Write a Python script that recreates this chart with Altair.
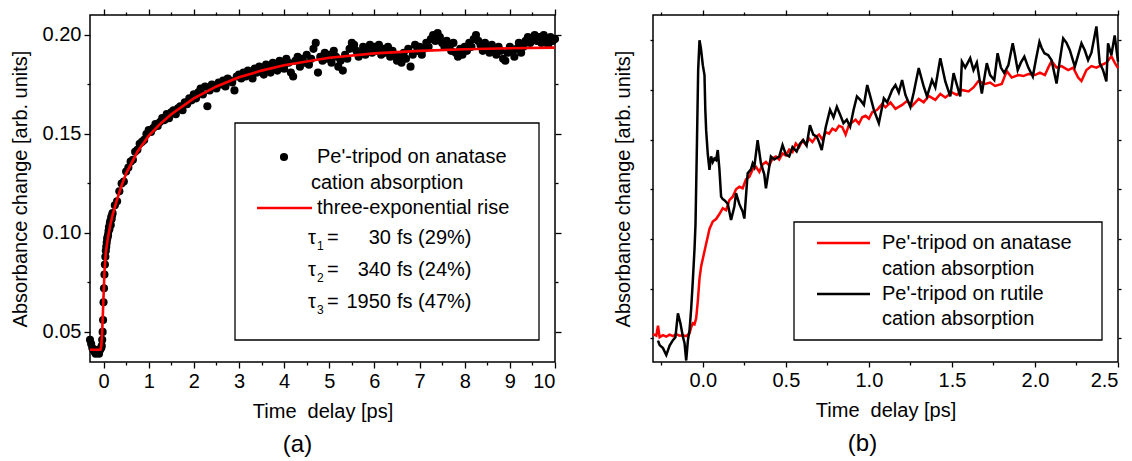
import altair as alt
import numpy as np
import pandas as pd

FONT = "Liberation Sans"

# ---------------- Panel (a): Pe'-tripod on anatase, dots + fit ----------------
# pre-zero baseline (t = -0.300 ... -0.050, step 0.025)
dots_pre_t = [-0.300, -0.275, -0.250, -0.225, -0.200, -0.175, -0.150, -0.125, -0.100, -0.075, -0.050]
dots_pre_y = [0.046, 0.044, 0.042, 0.041, 0.040, 0.039, 0.040, 0.041, 0.039, 0.041, 0.042]
# rise region (t = -0.04 ... 0.20, step 0.01)
dots_rise_t = [-0.04, -0.03, -0.02, -0.01, 0.00, 0.01, 0.02, 0.03, 0.04, 0.05, 0.06, 0.07, 0.08,
               0.09, 0.10, 0.11, 0.12, 0.13, 0.14, 0.15, 0.16, 0.17, 0.18, 0.19, 0.20]
dots_rise_y = [0.043, 0.046, 0.050, 0.056, 0.065, 0.072, 0.079, 0.084, 0.088, 0.091, 0.093, 0.095, 0.097,
               0.098, 0.099, 0.101, 0.103, 0.102, 0.105, 0.106, 0.104, 0.108, 0.107, 0.109, 0.110]
# main region, t = 0.25 ... 10.00 every 0.05 ps
dots_main_y = [
    0.114, 0.116, 0.121, 0.125, 0.126, 0.131, 0.133, 0.136, 0.137, 0.141,
    0.142, 0.145, 0.146, 0.147, 0.150, 0.152, 0.151, 0.153, 0.155, 0.154,
    0.156, 0.158, 0.157, 0.160, 0.158, 0.161, 0.162, 0.160, 0.163, 0.164,
    0.162, 0.166, 0.165, 0.168, 0.167, 0.170, 0.168, 0.171, 0.173, 0.170,
    0.174, 0.164, 0.172, 0.175, 0.174, 0.173, 0.176, 0.175, 0.177, 0.174,
    0.178, 0.177, 0.176, 0.172, 0.179, 0.180, 0.178, 0.181, 0.179, 0.182,
    0.180, 0.178, 0.183, 0.181, 0.184, 0.182, 0.180, 0.185, 0.183, 0.181,
    0.186, 0.184, 0.182, 0.187, 0.185, 0.183, 0.188, 0.186, 0.181, 0.179,
    0.187, 0.189, 0.184, 0.188, 0.186, 0.190, 0.185, 0.188, 0.193, 0.196,
    0.181, 0.189, 0.187, 0.191, 0.188, 0.190, 0.186, 0.192, 0.189, 0.184,
    0.187, 0.182, 0.190, 0.188, 0.193, 0.196, 0.195, 0.192, 0.189, 0.191,
    0.194, 0.190, 0.193, 0.195, 0.191, 0.194, 0.192, 0.195, 0.190, 0.193,
    0.191, 0.194, 0.189, 0.192, 0.190, 0.187, 0.189, 0.186, 0.191, 0.188,
    0.193, 0.184, 0.190, 0.195, 0.192, 0.194, 0.190, 0.193, 0.196, 0.194,
    0.198, 0.200, 0.197, 0.201, 0.199, 0.196, 0.194, 0.197, 0.195, 0.192,
    0.196, 0.191, 0.189, 0.193, 0.190, 0.194, 0.192, 0.196, 0.194, 0.198,
    0.200, 0.197, 0.195, 0.192, 0.196, 0.193, 0.191, 0.195, 0.193, 0.190,
    0.194, 0.192, 0.188, 0.187, 0.191, 0.194, 0.192, 0.189, 0.193, 0.196,
    0.191, 0.194, 0.197, 0.199, 0.196, 0.198, 0.200, 0.197, 0.199, 0.196,
    0.200, 0.198, 0.195, 0.199, 0.197, 0.198,
]
dots_main_t = list(np.round(0.25 + 0.05 * np.arange(len(dots_main_y)), 2))

# three-exponential fit curve
fit_t = [-0.30, -0.07, -0.05, -0.03, -0.02, 0.00, 0.02, 0.05, 0.10, 0.15, 0.20, 0.30, 0.40, 0.50,
         0.75, 1.00, 1.25, 1.50, 2.00, 2.50, 3.00, 3.50, 4.00, 5.00, 6.00, 7.00, 8.00, 9.00, 10.00]
fit_y = [0.041, 0.041, 0.043, 0.050, 0.056, 0.068, 0.080, 0.090, 0.098, 0.104, 0.109, 0.117, 0.124, 0.130,
         0.141, 0.149, 0.155, 0.160, 0.168, 0.174, 0.1786, 0.182, 0.1847, 0.1885, 0.1907, 0.1920, 0.1928, 0.1933, 0.1936]

# ---------------- Panel (b): anatase (red) vs rutile (black) ----------------
red_t = [-0.30, -0.28, -0.27, -0.26, -0.24, -0.22, -0.20, -0.18, -0.16, -0.14, -0.12, -0.10, -0.08, -0.07,
         -0.06, -0.05, -0.04, -0.03, -0.02, -0.01, 0.00, 0.01, 0.02, 0.03, 0.04, 0.06, 0.08, 0.10, 0.12,
         0.14, 0.16, 0.18, 0.20, 0.22, 0.24, 0.26, 0.28, 0.30, 0.32, 0.34, 0.36, 0.38, 0.40, 0.42, 0.44,
         0.46, 0.48, 0.50, 0.52, 0.54, 0.56, 0.58, 0.60, 0.62, 0.64, 0.66, 0.68, 0.70, 0.72, 0.74, 0.76,
         0.78, 0.80, 0.82, 0.84, 0.86, 0.88, 0.90, 0.92, 0.94, 0.96, 0.98, 1.00, 1.02, 1.05, 1.08, 1.10,
         1.13, 1.16, 1.20, 1.23, 1.26, 1.30, 1.33, 1.36, 1.40, 1.43, 1.46, 1.50, 1.53, 1.56, 1.60, 1.63,
         1.66, 1.70, 1.73, 1.76, 1.80, 1.83, 1.86, 1.90, 1.93, 1.96, 2.00, 2.03, 2.06, 2.08, 2.10, 2.13,
         2.16, 2.20, 2.23, 2.26, 2.28, 2.31, 2.34, 2.37, 2.40, 2.43, 2.46, 2.48, 2.50]
red_v = [0.08, 0.05, 0.25, 0.02, 0.06, 0.03, 0.07, 0.04, 0.08, 0.05, 0.06, 0.04, 0.10, 0.22,
         0.30, 0.28, 0.40, 0.75, 1.20, 1.45, 1.60, 1.75, 1.90, 2.05, 2.20, 2.35, 2.40, 2.50, 2.62,
         2.58, 2.78, 2.85, 3.00, 3.05, 3.02, 3.20, 3.25, 3.40, 3.45, 3.35, 3.50, 3.55, 3.48, 3.62, 3.66,
         3.60, 3.72, 3.68, 3.80, 3.75, 3.92, 3.85, 3.98, 3.90, 4.02, 3.95, 4.05, 4.10, 4.00, 4.15, 4.12,
         4.22, 4.18, 4.28, 4.25, 4.10, 4.30, 4.35, 4.40, 4.32, 4.45, 4.48, 4.42, 4.55, 4.60, 4.72, 4.65,
         4.75, 4.62, 4.70, 4.78, 4.68, 4.82, 4.75, 4.88, 4.80, 4.92, 4.85, 4.95, 4.90, 5.00, 4.97, 5.05,
         5.18, 5.12, 5.15, 5.08, 5.12, 5.38, 5.25, 5.30, 5.28, 5.32, 5.30, 5.35, 5.30, 5.45, 5.58, 5.45,
         5.48, 5.40, 5.45, 5.25, 5.18, 5.40, 5.48, 5.45, 5.50, 5.55, 5.68, 5.55, 5.44]

blk_t = [-0.27, -0.26, -0.24, -0.22, -0.20, -0.18, -0.165, -0.15, -0.135, -0.12, -0.11, -0.10, -0.09,
         -0.08, -0.07, -0.06, -0.05, -0.044, -0.035, -0.028, -0.02, -0.012, 0.00, 0.01, 0.015, 0.02,
         0.03, 0.04, 0.05, 0.06, 0.07, 0.08, 0.09, 0.10, 0.11, 0.12, 0.13, 0.15, 0.17, 0.19, 0.20, 0.22,
         0.24, 0.25, 0.27, 0.29, 0.30, 0.31, 0.33, 0.35, 0.37, 0.38, 0.40, 0.41, 0.43, 0.46, 0.48, 0.50,
         0.52, 0.54, 0.565, 0.585, 0.605, 0.625, 0.645, 0.665, 0.686, 0.70, 0.716, 0.74, 0.766, 0.787,
         0.807, 0.827, 0.847, 0.867, 0.887, 0.908, 0.928, 0.948, 0.97, 0.99, 1.01, 1.03, 1.06, 1.09,
         1.11, 1.14, 1.16, 1.18, 1.20, 1.22, 1.25, 1.27, 1.30, 1.33, 1.35, 1.38, 1.40, 1.43, 1.46, 1.49,
         1.51, 1.53, 1.55, 1.56, 1.58, 1.61, 1.63, 1.65, 1.68, 1.71, 1.73, 1.755, 1.775, 1.795, 1.815,
         1.84, 1.866, 1.88, 1.896, 1.915, 1.936, 1.96, 1.987, 2.005, 2.027, 2.04, 2.057, 2.08, 2.10,
         2.13, 2.15, 2.17, 2.19, 2.21, 2.24, 2.26, 2.28, 2.30, 2.32, 2.34, 2.37, 2.39, 2.41, 2.43, 2.44,
         2.46, 2.48, 2.50]
blk_v = [-0.05, -0.14, -0.20, -0.34, -0.15, -0.04, 0.02, 0.50, 0.30, 0.03, -0.10, -0.45, -0.05,
         0.16, 0.60, 1.17, 1.80, 2.30, 4.00, 5.40, 6.00, 5.85, 5.50, 5.30, 4.60, 4.19,
         3.70, 3.39, 3.66, 3.55, 3.62, 3.59, 3.79, 3.40, 2.85, 2.80, 2.78, 2.71, 2.38, 2.65, 2.92, 2.70,
         2.55, 2.41, 3.32, 3.40, 3.52, 3.45, 3.99, 3.52, 3.30, 3.02, 3.45, 3.66, 3.60, 3.66, 3.89, 3.70,
         3.66, 3.85, 3.76, 3.92, 3.99, 3.88, 4.29, 4.10, 4.06, 3.95, 3.79, 4.25, 4.60, 4.45,
         4.66, 4.50, 4.33, 4.40, 4.26, 4.60, 4.87, 4.80, 4.70, 5.10, 4.85, 4.60, 4.33, 4.83,
         4.75, 5.00, 5.10, 4.95, 5.20, 4.90, 4.66, 4.95, 5.44, 5.07, 4.87, 5.20, 5.05, 5.64, 5.17, 4.87,
         5.34, 5.10, 4.87, 5.57, 5.45, 5.64, 5.40, 5.55, 4.93, 5.54, 5.30, 5.20, 5.74, 5.45, 5.34,
         5.50, 5.94, 5.70, 5.40, 5.55, 5.67, 5.45, 5.27, 5.60, 5.97, 5.85, 5.74, 5.70, 5.60,
         5.13, 5.60, 6.04, 5.95, 5.80, 5.47, 5.70, 5.94, 5.80, 5.60, 5.75, 6.28, 5.54, 5.40, 5.17, 5.94,
         5.70, 6.10, 5.57]

# ---------------- tables ----------------
dots = pd.DataFrame({"t": dots_pre_t + dots_rise_t + dots_main_t,
                     "a": dots_pre_y + dots_rise_y + dots_main_y})
fit = pd.DataFrame({"t": fit_t, "a": fit_y})
red = pd.DataFrame({"t": red_t, "v": red_v})
blk = pd.DataFrame({"t": blk_t, "v": blk_v})
one = alt.Data(values=[{}])

W, H = 465, 347
TIME_TITLE = "Time\u00a0 delay [ps]"
YTITLE = "Absorbance change [arb. units]"
DOT = 66


def ax(orient, values, size, labels=False, title=None, fmt=None, **kw):
    args = dict(orient=orient, values=values, tickSize=size, labels=labels, domain=False, grid=False)
    args["title"] = title if title is not None else None
    if fmt is not None:
        args["format"] = fmt
    args.update(kw)
    return alt.Axis(**args)


def txt(x, y, s, size=20, align="left"):
    return alt.Chart(one).mark_text(align=align, baseline="middle", fontSize=size, font=FONT,
                                    color="black").encode(
        x=alt.value(x), y=alt.value(y), text=alt.value(s))


# ---- panel (a)
xa = alt.Scale(domain=[-0.3, 10], nice=False, zero=False)
ya = alt.Scale(domain=[0.0348, 0.2101], nice=False, zero=False)
xa_major = list(range(0, 11))
xa_minor = [0.5 + i for i in range(10)]
ya_major = [0.05, 0.10, 0.15, 0.20]
ya_minor = [0.075, 0.125, 0.175]

a_pts = alt.Chart(dots).mark_circle(size=DOT, color="black", opacity=1).encode(
    x=alt.X("t:Q", scale=xa, axis=ax("bottom", xa_major, 6, True, TIME_TITLE, "d",
                                      labelPadding=3, titlePadding=10)),
    y=alt.Y("a:Q", scale=ya, axis=ax("left", ya_major, 6, True, YTITLE, ".2f",
                                      labelPadding=3, titlePadding=12)),
)
a_fit = alt.Chart(fit).mark_line(color="#ff0000", strokeWidth=2.6).encode(
    x=alt.X("t:Q", scale=xa, axis=ax("bottom", xa_minor, 3)),
    y=alt.Y("a:Q", scale=ya, axis=ax("left", ya_minor, 3)),
)
a_top = alt.Chart(fit).mark_line(opacity=0).encode(
    x=alt.X("t:Q", scale=xa, axis=ax("top", xa_major, 6)),
    y=alt.Y("a:Q", scale=ya, axis=ax("right", ya_major, 6)),
)
a_top2 = alt.Chart(fit).mark_line(opacity=0).encode(
    x=alt.X("t:Q", scale=xa, axis=ax("top", xa_minor, 3)),
    y=alt.Y("a:Q", scale=ya, axis=ax("right", ya_minor, 3)),
)
a_box = alt.Chart(one).mark_rect(fill="white", stroke="black", strokeWidth=1.3).encode(
    x=alt.value(145), x2=alt.value(449), y=alt.value(108), y2=alt.value(325))
a_dot = alt.Chart(one).mark_circle(size=DOT, color="black", opacity=1).encode(
    x=alt.value(194), y=alt.value(142))
a_line = alt.Chart(one).mark_rule(color="#ff0000", strokeWidth=2.6).encode(
    x=alt.value(167), x2=alt.value(222), y=alt.value(193))

a_legend = [a_box, a_dot, a_line,
            txt(227, 142, "Pe'-tripod on anatase"),
            txt(221, 168, "cation absorption"),
            txt(227, 193, "three-exponential rise")]
tau_rows = [(223, "1", "30", "(29%)"), (255, "2", "340", "(24%)"), (287, "3", "1950", "(47%)")]
for (yy, sub, num, pct) in tau_rows:
    a_legend += [txt(218, yy, "\u03c4"),
                 txt(227, yy + 8, sub, size=12),
                 txt(237, yy, "="),
                 txt(301, yy, num, align="right"),
                 txt(307, yy, "fs " + pct)]

panel_a = alt.layer(a_pts, a_fit, a_top, a_top2, *a_legend).resolve_axis(
    x="independent", y="independent").properties(
    width=W, height=H,
    title=alt.TitleParams("(a)", orient="bottom", anchor="middle", fontSize=24, fontWeight="normal",
                          font=FONT, dx=-25, offset=12, color="black"))

# ---- panel (b)
xb = alt.Scale(domain=[-0.3, 2.5], nice=False, zero=False)
yb = alt.Scale(domain=[-0.48, 6.51], nice=False, zero=False)
xb_major = [0.0, 0.5, 1.0, 1.5, 2.0, 2.5]
xb_minor = [-0.25, 0.25, 0.75, 1.25, 1.75, 2.25]
yb_ticks = [0, 1, 2, 3, 4, 5, 6]

b_red = alt.Chart(red).mark_line(color="#ff0000", strokeWidth=2.5).encode(
    x=alt.X("t:Q", scale=xb, axis=ax("bottom", xb_major, 5, True, TIME_TITLE, ".1f",
                                      labelPadding=3, titlePadding=10)),
    y=alt.Y("v:Q", scale=yb, axis=ax("left", yb_ticks, 3, False, YTITLE, titlePadding=16)),
)
b_blk = alt.Chart(blk).mark_line(color="black", strokeWidth=2.5).encode(
    x=alt.X("t:Q", scale=xb, axis=ax("bottom", xb_minor, 3)),
    y=alt.Y("v:Q", scale=yb, axis=ax("right", yb_ticks, 3)),
)
b_top = alt.Chart(red).mark_line(opacity=0).encode(
    x=alt.X("t:Q", scale=xb, axis=ax("top", xb_major, 5)),
    y=alt.Y("v:Q", scale=yb, axis=None),
)
b_top2 = alt.Chart(red).mark_line(opacity=0).encode(
    x=alt.X("t:Q", scale=xb, axis=ax("top", xb_minor, 3)),
    y=alt.Y("v:Q", scale=yb, axis=None),
)
b_box = alt.Chart(one).mark_rect(fill="white", stroke="black", strokeWidth=1.3).encode(
    x=alt.value(141), x2=alt.value(449), y=alt.value(207), y2=alt.value(325))
b_l1 = alt.Chart(one).mark_rule(color="#ff0000", strokeWidth=2.6).encode(
    x=alt.value(164), x2=alt.value(217), y=alt.value(228))
b_l2 = alt.Chart(one).mark_rule(color="black", strokeWidth=2.6).encode(
    x=alt.value(164), x2=alt.value(217), y=alt.value(279))
b_legend = [b_box, b_l1, b_l2,
            txt(229, 228, "Pe'-tripod on anatase"),
            txt(229, 254, "cation absorption"),
            txt(229, 279, "Pe'-tripod on rutile"),
            txt(229, 304, "cation absorption")]

panel_b = alt.layer(b_red, b_blk, b_top, b_top2, *b_legend).resolve_axis(
    x="independent", y="independent").properties(
    width=W, height=H,
    title=alt.TitleParams("(b)", orient="bottom", anchor="middle", fontSize=24, fontWeight="normal",
                          font=FONT, dx=-23, offset=12, color="black"))

chart = alt.hconcat(panel_a, panel_b, spacing=98, bounds="flush").properties(
    autosize=alt.AutoSizeParams(type="none"),
    padding={"left": 90, "top": 15, "right": 1042, "bottom": 446},
    background="white",
).configure_view(stroke="black", strokeWidth=1.5).configure_axis(
    labelFont=FONT, titleFont=FONT, labelFontSize=20, titleFontSize=20,
    labelColor="black", titleColor="black", titleFontWeight="normal",
    tickColor="black", tickWidth=1.3,
)

chart.save("out.html", embed_options={"renderer": "svg", "actions": False})
